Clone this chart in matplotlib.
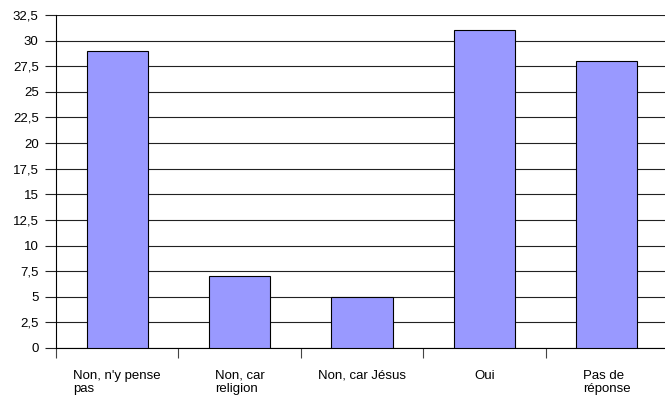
import matplotlib.pyplot as plt
from matplotlib.ticker import FuncFormatter

categories = ["Non, n'y pense\npas", "Non, car\nreligion", "Non, car Jésus", "Oui", "Pas de\nréponse"]
values = [29, 7, 5, 31, 28]
yticks = [i * 2.5 for i in range(14)]

plt.rcParams['font.family'] = ['Liberation Sans', 'DejaVu Sans']

fig = plt.figure(figsize=(6.65, 4.01), dpi=100)
ax = fig.add_axes([56 / 665, 53 / 401, 612 / 665, 333 / 401])

pos = [i + 0.5 for i in range(len(values))]
ax.bar(pos, values, width=0.5, color='#9999FF', edgecolor='black', linewidth=0.8, zorder=3)

ax.set_xlim(0, len(values))
ax.set_ylim(0, 32.5)
ax.set_yticks(yticks)
ax.yaxis.set_major_formatter(FuncFormatter(lambda v, p: ('%g' % v).replace('.', ',')))
ax.grid(axis='y', color='#222222', linewidth=0.8, zorder=0)

ax.set_xticks(range(len(values) + 1))
ax.set_xticklabels([])
ax.tick_params(axis='x', direction='out', length=7.5, width=0.8, color='#444444')
ax.tick_params(axis='y', direction='out', length=8, width=0.8, color='#222222', labelsize=9.5, pad=4.5)

for x, lab in zip(pos, categories):
    ax.text(x, -2.1, lab, ha='center', va='top', ma='left', fontsize=9.5, linespacing=1.15)

for s in ['top', 'right']:
    ax.spines[s].set_visible(False)
ax.spines['left'].set_linewidth(0.8)
ax.spines['bottom'].set_linewidth(0.8)

fig.savefig('out.png', dpi=100)
